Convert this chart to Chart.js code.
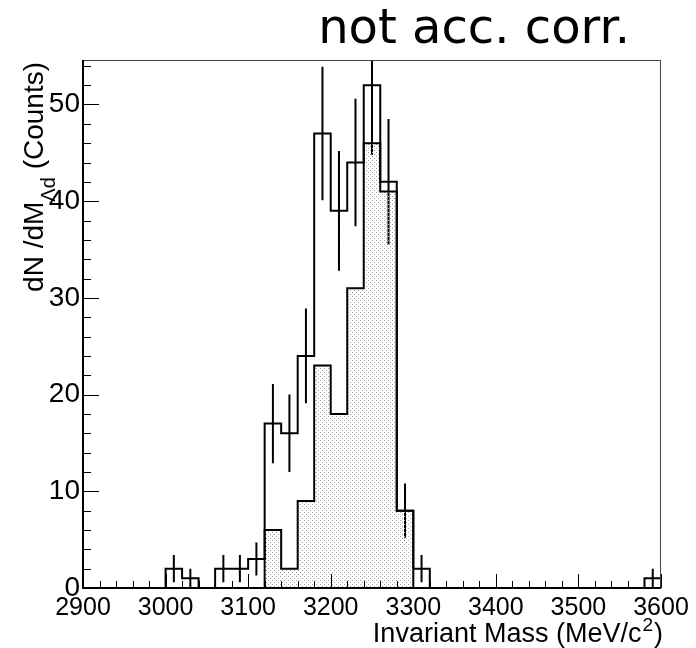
<!DOCTYPE html>
<html lang="en">
<head>
<meta charset="UTF-8" />
<title>Invariant Mass</title>
<script src="https://cdn.jsdelivr.net/npm/chart.js"></script>
<style>
  html, body { margin: 0; padding: 0; background: #fff; }
</style>
</head>
<body>
<canvas id="myChart" width="696" height="648"></canvas>
<script>
// bin lower edges (MeV/c^2), 20 MeV bins
const binEdges = [2900, 2920, 2940, 2960, 2980, 3000, 3020, 3040, 3060, 3080,
  3100, 3120, 3140, 3160, 3180, 3200, 3220, 3240, 3260, 3280,
  3300, 3320, 3340, 3360, 3380, 3400, 3420, 3440, 3460, 3480,
  3500, 3520, 3540, 3560, 3580];
const binWidth = 20;

// all events (open histogram, with error bars)
const counts = [0, 0, 0, 0, 0, 2, 1, 0, 2, 2,
  3, 17, 16, 24, 47, 39, 44, 52, 42, 8,
  2, 0, 0, 0, 0, 0, 0, 0, 0, 0,
  0, 0, 0, 0, 1];
const errors = [0, 0, 0, 0, 0, 1.4, 1, 0, 1.4, 1.4,
  1.7, 4.1, 4, 4.9, 6.9, 6.2, 6.6, 7.2, 6.5, 2.8,
  1.4, 0, 0, 0, 0, 0, 0, 0, 0, 0,
  0, 0, 0, 0, 1];

// shaded histogram
const shaded = [0, 0, 0, 0, 0, 0, 0, 0, 0, 0,
  0, 6, 2, 9, 23, 18, 31, 46, 41, 8,
  0, 0, 0, 0, 0, 0, 0, 0, 0, 0,
  0, 0, 0, 0, 0];

const xMin = 2900, xMax = 3600, xMajor = 100, xMinor = 20;
const yMin = 0, yMax = 54.6, yMajor = 10, yMinor = 2;

function stepPoints(vals) {
  const pts = vals.map((v, i) => ({ x: binEdges[i], y: v }));
  pts.push({ x: xMax, y: vals[vals.length - 1] });
  return pts;
}

function errorPoints(vals, errs) {
  const pts = [];
  vals.forEach((v, i) => {
    if (errs[i] <= 0) return;
    const c = binEdges[i] + binWidth / 2;
    pts.push({ x: c, y: v - errs[i] }, { x: c, y: v + errs[i] }, { x: c, y: null });
  });
  return pts;
}

// dotted fill like the ROOT pattern
const tile = document.createElement("canvas");
tile.width = 4;
tile.height = 4;
const tctx = tile.getContext("2d");
tctx.fillStyle = "#a0a0a0";
tctx.fillRect(0, 0, 1, 1);
tctx.fillRect(2, 2, 1, 1);
const dots = tctx.createPattern(tile, "repeat");

const rootFrame = {
  id: "rootFrame",
  afterDatasetsDraw(chart) {
    const { ctx, chartArea: a, scales } = chart;
    const x = scales.x, y = scales.y;
    ctx.save();
    ctx.strokeStyle = "#000";
    ctx.lineWidth = 1;
    ctx.beginPath();
    for (let v = xMin; v <= xMax; v += xMinor) {
      const px = Math.round(x.getPixelForValue(v)) + 0.5;
      const len = v % xMajor === 0 ? 14 : 7;
      ctx.moveTo(px, a.bottom);
      ctx.lineTo(px, a.bottom - len);
    }
    for (let v = yMin; v <= yMax; v += yMinor) {
      const py = Math.round(y.getPixelForValue(v)) + 0.5;
      const len = v % yMajor === 0 ? 16 : 8;
      ctx.moveTo(a.left, py);
      ctx.lineTo(a.left + len, py);
    }
    ctx.stroke();

    // frame
    ctx.strokeStyle = "#444";
    ctx.lineWidth = 1;
    ctx.strokeRect(a.left + 0.5, a.top + 0.5, a.right - a.left - 1, a.bottom - a.top - 1);
    ctx.strokeStyle = "#000";
    ctx.lineWidth = 2;
    ctx.beginPath();
    ctx.moveTo(a.left, a.top);
    ctx.lineTo(a.left, a.bottom);
    ctx.lineTo(a.right, a.bottom);
    ctx.stroke();
    ctx.restore();
  },
  afterDraw(chart) {
    const { ctx, chartArea: a } = chart;
    ctx.save();
    ctx.fillStyle = "#000";

    // title
    ctx.font = "48px 'DejaVu Sans'";
    ctx.textAlign = "right";
    ctx.textBaseline = "alphabetic";
    ctx.fillText("not acc. corr.", 630, 43);

    // x title with superscript
    const big = "27px 'Liberation Sans'", small = "19px 'Liberation Sans'";
    ctx.textAlign = "left";
    ctx.font = big;
    const t1 = "Invariant Mass (MeV/c", t3 = ")";
    const w1 = ctx.measureText(t1).width, w3 = ctx.measureText(t3).width;
    ctx.font = small;
    const w2 = ctx.measureText("2").width;
    let xs = a.right - (w1 + w2 + w3);
    const base = 642;
    ctx.font = big;
    ctx.fillText(t1, xs, base);
    ctx.font = small;
    ctx.fillText("2", xs + w1 + 1, base - 11);
    ctx.font = big;
    ctx.fillText(t3, xs + w1 + w2 + 2, base);

    // y title with subscript, rotated
    const yb = "28px 'Liberation Sans'", ys = "20px 'Liberation Sans'";
    const p1 = "dN /dM", p2 = "\u039Bd", p3 = " (Counts)";
    ctx.font = yb;
    const q1 = ctx.measureText(p1).width, q3 = ctx.measureText(p3).width;
    ctx.font = ys;
    const q2 = ctx.measureText(p2).width;
    ctx.translate(43, a.top + 2);
    ctx.rotate(-Math.PI / 2);
    let xl = -(q1 + q2 + q3);
    ctx.font = yb;
    ctx.fillText(p1, xl, 0);
    ctx.font = ys;
    ctx.fillText(p2, xl + q1, 12);
    ctx.font = yb;
    ctx.fillText(p3, xl + q1 + q2, 0);
    ctx.restore();
  },
};

const ctx = document.getElementById("myChart").getContext("2d");
new Chart(ctx, {
  type: "line",
  data: {
    datasets: [
      {
        label: "all",
        data: stepPoints(counts),
        stepped: "before",
        borderColor: "#000",
        borderWidth: 2,
        pointRadius: 0,
        fill: false,
        order: 3,
      },
      {
        label: "errors",
        data: errorPoints(counts, errors),
        borderColor: "#000",
        borderWidth: 2,
        pointRadius: 0,
        spanGaps: false,
        fill: false,
        order: 2,
      },
      {
        label: "shaded",
        data: stepPoints(shaded),
        stepped: "before",
        borderColor: "#000",
        borderWidth: 2,
        pointRadius: 0,
        backgroundColor: dots,
        fill: "origin",
        order: 1,
      },
    ],
  },
  options: {
    responsive: false,
    animation: false,
    devicePixelRatio: 1,
    layout: { padding: { top: 60, right: 35, left: 0, bottom: 0 } },
    plugins: { legend: { display: false }, tooltip: { enabled: false } },
    scales: {
      x: {
        type: "linear",
        min: xMin,
        max: xMax,
        grid: { display: false, drawTicks: false },
        border: { display: false },
        ticks: {
          stepSize: xMajor,
          maxRotation: 0,
          padding: 5,
          color: "#000",
          font: { family: "'Liberation Sans'", size: 25 },
          callback: (v) => String(v),
        },
        afterFit: (s) => { s.height = 60; },
      },
      y: {
        min: yMin,
        max: yMax,
        grid: { display: false, drawTicks: false },
        border: { display: false },
        ticks: {
          stepSize: yMajor,
          padding: 3,
          color: "#000",
          font: { family: "'Liberation Sans'", size: 28 },
        },
        afterBuildTicks: (s) => { s.ticks = s.ticks.filter((t) => t.value % yMajor === 0); },
        afterFit: (s) => { s.width = 83; },
      },
    },
  },
  plugins: [rootFrame],
});
</script>
</body>
</html>
